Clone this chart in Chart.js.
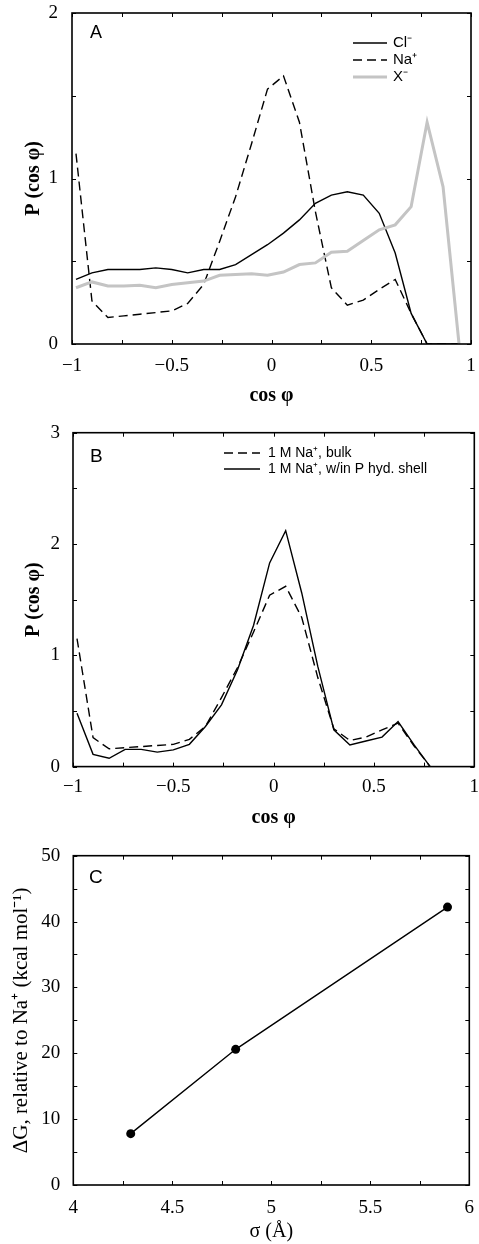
<!DOCTYPE html>
<html>
<head>
<meta charset="utf-8">
<script src="https://cdn.jsdelivr.net/npm/chart.js@4"></script>
<style>
  body { margin: 0; background: #fff; }
  .panel { position: absolute; left: 0; width: 479px; }
  canvas { display: block; }
</style>
</head>
<body>
<div class="panel" style="top:0"><canvas id="chartA" width="479" height="415"></canvas></div>
<div class="panel" style="top:415px"><canvas id="chartB" width="479" height="420"></canvas></div>
<div class="panel" style="top:835px"><canvas id="chartC" width="479" height="409"></canvas></div>
<script>
// bin centres of cos(phi)
const cosPhi = [-0.98, -0.90, -0.82, -0.74, -0.66, -0.58, -0.50, -0.42, -0.34, -0.26, -0.18, -0.10, -0.02,
                0.06, 0.14, 0.22, 0.30, 0.38, 0.46, 0.54, 0.62, 0.70, 0.78, 0.86, 0.94];

// panel A
const pCl = [0.39, 0.43, 0.45, 0.45, 0.45, 0.46, 0.45, 0.43, 0.45, 0.45, 0.48, 0.54, 0.60,
             0.67, 0.75, 0.85, 0.90, 0.92, 0.90, 0.79, 0.55, 0.185, 0, 0, 0];
const pNa = [1.15, 0.26, 0.16, 0.17, 0.18, 0.19, 0.20, 0.245, 0.36, 0.62, 0.89, 1.21, 1.54,
             1.62, 1.34, 0.80, 0.34, 0.235, 0.265, 0.33, 0.39, 0.185, 0, 0, 0];
const pX = [0.34, 0.375, 0.35, 0.35, 0.355, 0.34, 0.36, 0.37, 0.38, 0.415, 0.42, 0.425, 0.415,
            0.435, 0.48, 0.49, 0.555, 0.56, 0.625, 0.69, 0.72, 0.83, 1.34, 0.95, 0];

// panel B (bulk curve is the Na+ curve of panel A)
const pNaShell = [0.48, 0.11, 0.075, 0.155, 0.155, 0.13, 0.15, 0.20, 0.36, 0.555, 0.87, 1.27, 1.83,
                  2.12, 1.56, 0.90, 0.33, 0.195, 0.23, 0.265, 0.405, 0.195, 0, 0, 0];

// panel C
const sigma = [4.29, 4.82, 5.89];
const deltaG = [7.8, 20.6, 42.2];

const serif = "'Liberation Serif', 'Times New Roman', serif";
const sans = "'Liberation Sans', Arial, sans-serif";
Chart.defaults.color = '#000';
Chart.defaults.font.family = serif;

function pts(xs, ys) { return xs.map((x, i) => ({x: x, y: ys[i]})); }
function fmt(v) { return String(+v.toFixed(2)).replace('-', '\u2212'); }

// inward ticks on all four sides + frame, legend, panel letter
const deco = {
  id: 'deco',
  afterDraw(chart, args, o) {
    const {ctx, chartArea: a, scales} = chart;
    ctx.save();
    ctx.strokeStyle = '#000';
    ctx.lineWidth = 1;
    ctx.setLineDash([]);
    const len = 4;
    ctx.beginPath();
    scales.x.ticks.forEach(t => {
      const px = Math.round(scales.x.getPixelForValue(t.value)) + 0.5;
      ctx.moveTo(px, a.bottom); ctx.lineTo(px, a.bottom - len);
      ctx.moveTo(px, a.top); ctx.lineTo(px, a.top + len);
    });
    scales.y.ticks.forEach(t => {
      const py = Math.round(scales.y.getPixelForValue(t.value)) + 0.5;
      ctx.moveTo(a.left, py); ctx.lineTo(a.left + len, py);
      ctx.moveTo(a.right, py); ctx.lineTo(a.right - len, py);
    });
    ctx.stroke();
    ctx.lineWidth = 1.6;
    ctx.strokeRect(a.left, a.top, a.right - a.left, a.bottom - a.top);

    // panel letter
    ctx.fillStyle = '#000';
    ctx.font = o.letterSize + 'px ' + sans;
    ctx.textBaseline = 'alphabetic';
    ctx.textAlign = 'left';
    ctx.fillText(o.letter, o.letterX, o.letterY);

    // legend
    if (o.legend) {
      const L = o.legend;
      ctx.font = L.size + 'px ' + sans;
      ctx.textBaseline = 'middle';
      L.order.forEach((di, row) => {
        const ds = chart.data.datasets[di];
        const y = L.y + row * L.dy;
        ctx.strokeStyle = ds.borderColor;
        ctx.lineWidth = ds.borderWidth;
        ctx.setLineDash(ds.borderDash || []);
        ctx.beginPath();
        ctx.moveTo(L.x, y); ctx.lineTo(L.x + L.len, y);
        ctx.stroke();
        ctx.setLineDash([]);
        ctx.fillText(ds.label, L.x + L.len + L.gap, y);
      });
    }
    ctx.restore();
  }
};

// the label overflow padding is dropped so the plot box keeps its place
function noPad(s) { s.paddingLeft = 0; s.paddingRight = 0; s.paddingTop = 0; s.paddingBottom = 0; }

function scaleX(min, max, step, every, h, tickPad, title, bold, titlePad) {
  return {
    type: 'linear', min: min, max: max,
    afterFit(s) { s.height = h; noPad(s); },
    grid: {display: false, drawTicks: false},
    border: {display: false},
    ticks: {
      stepSize: step, autoSkip: false, maxRotation: 0, padding: tickPad,
      font: {size: 19, lineHeight: 1.2},
      callback: v => Math.abs(v / every - Math.round(v / every)) < 1e-6 ? fmt(v) : ''
    },
    title: {display: true, text: title, padding: {top: 0, bottom: titlePad},
            font: {size: 20, weight: bold ? 'bold' : 'normal', lineHeight: 1.2}}
  };
}

function scaleY(min, max, step, every, w, tickPad, title, bold, titlePad, titleSize) {
  return {
    type: 'linear', min: min, max: max,
    afterFit(s) { s.width = w; noPad(s); },
    grid: {display: false, drawTicks: false},
    border: {display: false},
    ticks: {
      stepSize: step, autoSkip: false, padding: tickPad,
      font: {size: 19, lineHeight: 1.2},
      callback: v => Math.abs(v / every - Math.round(v / every)) < 1e-6 ? fmt(v) : ''
    },
    title: {display: true, text: title, padding: {top: titlePad, bottom: 0},
            font: {size: titleSize || 20, weight: bold ? 'bold' : 'normal', lineHeight: 1.2}}
  };
}

const base = {
  responsive: false, animation: false, devicePixelRatio: 1,
  elements: {point: {radius: 0}, line: {tension: 0}},
};

new Chart(document.getElementById('chartA'), {
  type: 'line',
  data: {
    datasets: [
      {label: 'X\u207B', data: pts(cosPhi, pX), borderColor: '#c4c4c4', borderWidth: 3},
      {label: 'Na\u207A', data: pts(cosPhi, pNa), borderColor: '#000', borderWidth: 1.4, borderDash: [9, 5]},
      {label: 'Cl\u207B', data: pts(cosPhi, pCl), borderColor: '#000', borderWidth: 1.4}
    ]
  },
  options: Object.assign({}, base, {
    layout: {padding: {top: 13, right: 8, left: 0, bottom: 0}},
    scales: {
      x: scaleX(-1, 1, 0.25, 0.5, 71, 11, 'cos \u03C6', true, 7),
      y: scaleY(0, 2, 0.5, 1, 72, 14, 'P (cos \u03C6)', true, 22)
    },
    plugins: {
      legend: {display: false}, tooltip: {enabled: false},
      deco: {letter: 'A', letterSize: 18, letterX: 90, letterY: 38,
             legend: {x: 353, y: 43, dy: 17, len: 34, gap: 6, size: 15, order: [2, 1, 0]}}
    }
  }),
  plugins: [deco]
});

new Chart(document.getElementById('chartB'), {
  type: 'line',
  data: {
    datasets: [
      {label: '1 M Na\u207A, bulk', data: pts(cosPhi, pNa), borderColor: '#000', borderWidth: 1.4, borderDash: [9, 5]},
      {label: '1 M Na\u207A, w/in P hyd. shell', data: pts(cosPhi, pNaShell), borderColor: '#000', borderWidth: 1.4}
    ]
  },
  options: Object.assign({}, base, {
    layout: {padding: {top: 17.7, right: 4.7, left: 0, bottom: 0}},
    scales: {
      x: scaleX(-1, 1, 0.25, 0.5, 68.4, 9, 'cos \u03C6', true, 5),
      y: scaleY(0, 3, 0.5, 1, 73, 13, 'P (cos \u03C6)', true, 22)
    },
    plugins: {
      legend: {display: false}, tooltip: {enabled: false},
      deco: {letter: 'B', letterSize: 19, letterX: 90, letterY: 47,
             legend: {x: 224, y: 38, dy: 16, len: 36, gap: 8, size: 14, order: [0, 1]}}
    }
  }),
  plugins: [deco]
});

new Chart(document.getElementById('chartC'), {
  type: 'line',
  data: {
    datasets: [
      {label: '\u0394G', data: pts(sigma, deltaG), borderColor: '#000', borderWidth: 1.4,
       pointRadius: 4.5, pointBackgroundColor: '#000', pointBorderColor: '#000', pointBorderWidth: 0}
    ]
  },
  options: Object.assign({}, base, {
    layout: {padding: {top: 20.7, right: 9.7, left: 0, bottom: 0}},
    scales: {
      x: scaleX(4, 6, 0.25, 0.5, 59, 12, '\u03C3 (\u00C5)', false, 0),
      y: scaleY(0, 50, 5, 10, 73.3, 13, '\u0394G, relative to Na\u207A (kcal mol\u207B\u00B9)', false, 9, 21)
    },
    plugins: {
      legend: {display: false}, tooltip: {enabled: false},
      deco: {letter: 'C', letterSize: 19, letterX: 89, letterY: 48}
    }
  }),
  plugins: [deco]
});
</script>
</body>
</html>
